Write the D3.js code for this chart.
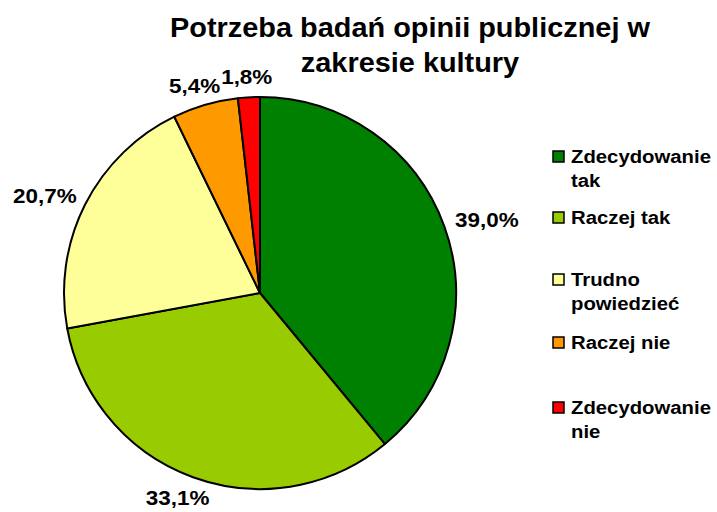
<!DOCTYPE html>
<html>
<head>
<meta charset="utf-8">
<script src="https://cdn.jsdelivr.net/npm/d3@7"></script>
<style>
  html, body { margin: 0; padding: 0; background: #fff; }
  svg { display: block; font-family: "Liberation Sans", Arial, sans-serif; font-weight: bold; }
</style>
</head>
<body>
<svg id="chart" width="717" height="512"></svg>
<script>
const categories = ["Zdecydowanie tak", "Raczej tak", "Trudno powiedzieć", "Raczej nie", "Zdecydowanie nie"];
const legendLines = [["Zdecydowanie", "tak"], ["Raczej tak"], ["Trudno", "powiedzieć"], ["Raczej nie"], ["Zdecydowanie", "nie"]];
const values = [39.0, 33.1, 20.7, 5.4, 1.8];
const valueLabels = ["39,0%", "33,1%", "20,7%", "5,4%", "1,8%"];
const colors = ["#008000", "#99CC00", "#FFFF99", "#FF9900", "#FF0000"];
const titleLines = ["Potrzeba badań opinii publicznej w", "zakresie kultury"];

const svg = d3.select("#chart");
const cx = 260, cy = 293, r = 196;
const sx = 1.07; // horizontal stretch of the original rendering

// Title
titleLines.forEach((t, i) => {
  svg.append("g")
    .attr("transform", `translate(410,${37 + i * 35}) scale(${sx},1)`)
    .append("text")
    .attr("text-anchor", "middle")
    .attr("font-size", 27)
    .attr("fill", "#000")
    .text(t);
});

// Pie
const data = categories.map((c, i) => ({ cat: c, value: values[i], label: valueLabels[i], color: colors[i] }));
const pie = d3.pie().value(d => d.value).sort(null);
const arcs = pie(data);
const arc = d3.arc().innerRadius(0).outerRadius(r);

const g = svg.append("g").attr("transform", `translate(${cx},${cy})`);
g.selectAll("path").data(arcs).join("path")
  .attr("d", arc)
  .attr("fill", d => d.data.color)
  .attr("stroke", "#000")
  .attr("stroke-width", 2)
  .attr("stroke-linejoin", "round");

// Value labels
const gap = 13;
const labelG = g.append("g");
arcs.forEach(a => {
  const mid = (a.startAngle + a.endAngle) / 2;
  const s = Math.sin(mid), c = Math.cos(mid);
  const px = (r + gap) * s, py = -(r + gap) * c;
  const tg = labelG.append("g");
  const t = tg.append("text")
    .attr("font-size", 21)
    .attr("text-anchor", "middle")
    .attr("fill", "#000")
    .text(a.data.label);
  const w = t.node().getBBox().width * sx, h = 16;
  const x = px + (w / 2) * s;
  const y = py - (h / 2) * c;
  tg.attr("transform", `translate(${x},${y + h / 2}) scale(${sx},1)`);
});

// Legend
const legendItemY = [157, 218, 280, 343, 408];
const legend = svg.append("g");
data.forEach((d, i) => {
  const y0 = legendItemY[i];
  legend.append("rect")
    .attr("x", 553).attr("y", y0 - 6)
    .attr("width", 11).attr("height", 11)
    .attr("fill", d.color)
    .attr("stroke", "#000")
    .attr("stroke-width", 1.5);
  legendLines[i].forEach((ln, j) => {
    legend.append("g")
      .attr("transform", `translate(571,${y0 + 6 + j * 24}) scale(${sx},1)`)
      .append("text").attr("font-size", 19).attr("fill", "#000")
      .text(ln);
  });
});
</script>
</body>
</html>
